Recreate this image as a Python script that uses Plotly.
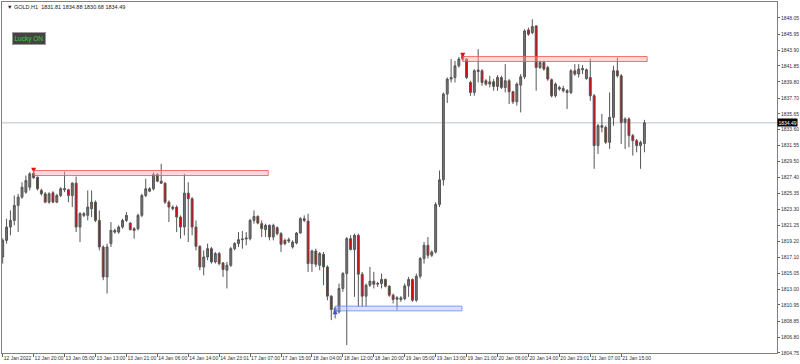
import plotly.graph_objects as go

# ---------------- data (GOLD, H1) ----------------
tick_labels = ["12 Jan 2022", "12 Jan 20:00", "13 Jan 05:00", "13 Jan 13:00", "13 Jan 21:00",
               "14 Jan 06:00", "14 Jan 14:00", "14 Jan 23:01", "17 Jan 07:00", "17 Jan 15:00",
               "18 Jan 04:00", "18 Jan 12:00", "18 Jan 20:00", "19 Jan 05:00", "19 Jan 13:00",
               "19 Jan 21:00", "20 Jan 06:00", "20 Jan 14:00", "20 Jan 23:01", "21 Jan 07:00",
               "21 Jan 15:00"]
tick_bars = list(range(0, 161, 8))

price_ticks = [1848.05, 1845.95, 1843.90, 1841.85, 1839.80, 1837.70, 1835.65, 1833.60,
               1831.55, 1829.50, 1827.40, 1825.35, 1823.30, 1821.25, 1819.20, 1817.10,
               1815.05, 1813.00, 1810.95, 1808.85, 1806.80, 1804.75]

opens = [
    1817.15, 1819.30, 1821.02, 1821.88, 1823.82, 1824.89, 1825.53, 1826.17, 1827.98, 1827.46,
    1825.75, 1825.32, 1824.24, 1825.45, 1824.24, 1825.10, 1825.84, 1825.84, 1825.10, 1826.69,
    1821.02, 1822.75, 1822.53, 1823.39, 1824.24, 1821.88, 1818.44, 1814.57, 1818.88, 1820.59,
    1820.37, 1821.02, 1821.88, 1821.53, 1820.81, 1820.81, 1822.53, 1825.10, 1825.66, 1825.97,
    1827.81, 1826.95, 1826.69, 1824.24, 1823.39, 1823.60, 1822.31, 1821.02, 1825.40, 1824.68,
    1821.02, 1818.53, 1815.86, 1817.15, 1818.23, 1816.51, 1817.59, 1816.38, 1815.44, 1816.08,
    1818.23, 1818.88, 1819.39, 1819.47, 1819.52, 1821.88, 1822.40, 1821.46, 1820.68, 1821.24,
    1819.73, 1820.94, 1820.17, 1819.30, 1819.39, 1818.44, 1818.96, 1820.25, 1822.10, 1821.79,
    1816.30, 1817.92, 1816.08, 1817.50, 1815.86, 1812.09, 1810.50, 1810.06, 1813.08, 1815.01,
    1819.52, 1818.11, 1819.95, 1814.92, 1812.09, 1813.50, 1814.02, 1813.63, 1813.72, 1814.24,
    1813.37, 1812.21, 1811.70, 1811.66, 1811.79, 1813.41, 1814.24, 1811.57, 1814.66, 1816.95,
    1818.66, 1817.37, 1817.80, 1823.94, 1827.13, 1838.21, 1840.15, 1840.35, 1841.86, 1843.15,
    1842.73, 1839.71, 1838.42, 1841.13, 1841.22, 1839.93, 1839.50, 1839.80, 1839.19, 1840.35,
    1839.06, 1839.93, 1838.51, 1837.22, 1839.37, 1840.44, 1846.50, 1846.15, 1847.02, 1841.64,
    1842.29, 1841.64, 1840.06, 1837.99, 1839.06, 1838.94, 1838.64, 1838.42, 1841.22, 1840.79,
    1841.35, 1840.22, 1840.35, 1837.99, 1831.55, 1833.91, 1833.91, 1831.97, 1835.20, 1841.22,
    1840.57, 1834.55, 1834.99, 1832.84, 1832.19, 1831.55, 1831.81]

highs = [
    1819.56, 1822.10, 1823.17, 1825.10, 1825.32, 1826.82, 1827.68, 1828.11, 1828.30, 1827.55,
    1825.97, 1825.53, 1825.53, 1825.66, 1825.32, 1826.17, 1828.20, 1825.97, 1826.82, 1827.55,
    1822.95, 1822.95, 1825.75, 1825.75, 1824.46, 1823.17, 1818.66, 1818.88, 1821.66, 1820.81,
    1821.24, 1822.10, 1822.95, 1821.66, 1821.02, 1822.75, 1825.32, 1827.26, 1826.17, 1828.11,
    1827.98, 1829.19, 1826.82, 1824.46, 1823.82, 1823.82, 1822.53, 1827.90, 1826.82, 1824.89,
    1821.88, 1818.66, 1818.01, 1818.88, 1818.44, 1817.80, 1817.80, 1816.51, 1816.51, 1818.44,
    1819.08, 1820.37, 1820.50, 1820.37, 1822.10, 1823.17, 1822.53, 1821.88, 1821.46, 1821.37,
    1821.46, 1821.11, 1820.37, 1819.52, 1819.65, 1819.30, 1820.37, 1822.31, 1822.53, 1822.75,
    1818.11, 1818.23, 1817.80, 1817.80, 1816.08, 1812.21, 1810.71, 1813.72, 1815.22, 1819.73,
    1819.95, 1820.17, 1820.17, 1815.22, 1813.72, 1815.86, 1815.22, 1813.93, 1815.01, 1814.37,
    1813.50, 1812.43, 1812.09, 1812.09, 1813.72, 1814.57, 1814.37, 1815.01, 1817.15, 1819.08,
    1819.73, 1818.01, 1824.24, 1828.33, 1838.42, 1840.35, 1842.73, 1842.51, 1843.00, 1843.30,
    1842.80, 1839.93, 1841.44, 1844.01, 1841.44, 1840.15, 1840.57, 1840.15, 1840.66, 1840.57,
    1842.08, 1840.15, 1838.64, 1839.71, 1840.79, 1846.59, 1846.80, 1847.88, 1847.11, 1842.51,
    1842.51, 1841.86, 1840.22, 1839.71, 1839.28, 1839.28, 1838.86, 1841.44, 1842.08, 1842.08,
    1841.95, 1841.51, 1842.80, 1838.21, 1834.35, 1835.64, 1834.13, 1838.42, 1841.86, 1842.93,
    1840.79, 1835.20, 1835.20, 1833.06, 1832.41, 1832.19, 1834.88]

lows = [
    1816.30, 1818.88, 1819.95, 1821.24, 1820.37, 1824.68, 1825.32, 1825.75, 1827.26, 1825.75,
    1825.10, 1824.11, 1824.03, 1824.11, 1824.11, 1824.89, 1825.53, 1824.24, 1823.60, 1820.37,
    1819.08, 1822.31, 1821.88, 1822.31, 1821.66, 1818.01, 1814.15, 1812.43, 1818.44, 1820.17,
    1820.17, 1820.81, 1821.66, 1820.59, 1819.52, 1820.59, 1822.31, 1824.89, 1825.53, 1825.75,
    1826.82, 1826.61, 1824.03, 1821.66, 1823.17, 1820.37, 1819.52, 1819.95, 1819.08, 1819.95,
    1818.01, 1815.44, 1814.79, 1816.73, 1816.30, 1816.30, 1816.08, 1814.57, 1813.08, 1815.86,
    1818.01, 1818.44, 1818.23, 1818.66, 1819.30, 1821.46, 1821.37, 1819.73, 1819.73, 1819.30,
    1819.30, 1819.95, 1817.80, 1818.66, 1818.96, 1818.23, 1818.79, 1820.17, 1821.66, 1815.22,
    1815.22, 1815.86, 1815.44, 1813.50, 1811.57, 1808.99, 1809.21, 1809.85, 1812.64, 1805.77,
    1818.01, 1812.00, 1810.71, 1810.71, 1810.71, 1813.28, 1813.08, 1813.28, 1813.08, 1813.21,
    1812.00, 1811.14, 1810.28, 1811.35, 1811.57, 1812.00, 1811.35, 1811.35, 1814.37, 1816.30,
    1816.95, 1817.15, 1817.59, 1823.60, 1826.39, 1837.05, 1839.71, 1839.71, 1841.64, 1842.51,
    1840.15, 1837.99, 1837.99, 1839.71, 1839.28, 1839.28, 1839.06, 1838.64, 1838.64, 1838.86,
    1838.42, 1836.92, 1836.92, 1836.71, 1835.84, 1840.15, 1845.73, 1845.95, 1838.64, 1841.44,
    1841.22, 1839.93, 1837.78, 1837.78, 1838.64, 1838.42, 1836.28, 1838.21, 1840.57, 1840.35,
    1840.79, 1840.06, 1837.35, 1828.55, 1830.48, 1833.26, 1831.77, 1831.12, 1834.13, 1840.35,
    1831.77, 1831.12, 1831.33, 1830.26, 1830.69, 1828.55, 1830.68]

closes = [
    1819.30, 1821.02, 1821.88, 1823.82, 1824.89, 1826.17, 1827.04, 1827.90, 1827.39, 1825.97,
    1825.32, 1824.24, 1825.32, 1824.24, 1825.10, 1825.97, 1825.97, 1825.10, 1826.69, 1821.02,
    1822.75, 1822.53, 1823.60, 1824.24, 1821.88, 1818.44, 1814.57, 1818.44, 1820.59, 1820.37,
    1821.02, 1821.88, 1822.53, 1820.68, 1820.59, 1822.53, 1825.10, 1825.97, 1825.97, 1827.81,
    1826.95, 1826.69, 1824.24, 1823.60, 1823.60, 1822.31, 1821.02, 1825.40, 1824.68, 1821.02,
    1818.53, 1815.86, 1817.15, 1818.23, 1816.51, 1817.59, 1816.30, 1815.53, 1816.08, 1818.23,
    1818.88, 1819.39, 1819.47, 1819.60, 1821.88, 1822.40, 1821.53, 1820.81, 1821.24, 1819.73,
    1821.24, 1820.17, 1818.79, 1818.88, 1819.21, 1819.08, 1820.25, 1822.10, 1821.88, 1816.30,
    1817.92, 1816.21, 1817.59, 1815.86, 1812.09, 1810.37, 1810.06, 1813.08, 1815.01, 1819.52,
    1818.11, 1819.95, 1814.92, 1812.09, 1813.50, 1814.02, 1813.63, 1813.72, 1814.24, 1813.37,
    1812.21, 1811.66, 1811.87, 1811.87, 1813.41, 1814.24, 1811.57, 1814.66, 1816.95, 1818.66,
    1817.37, 1817.80, 1823.94, 1827.13, 1838.21, 1840.15, 1840.35, 1841.86, 1842.73, 1842.73,
    1840.35, 1838.42, 1841.22, 1841.31, 1839.71, 1839.50, 1839.80, 1839.19, 1840.35, 1839.06,
    1839.93, 1838.51, 1837.22, 1839.50, 1840.44, 1846.37, 1845.95, 1846.93, 1841.64, 1842.29,
    1841.44, 1840.15, 1837.99, 1839.50, 1838.86, 1838.64, 1838.42, 1841.22, 1840.79, 1841.44,
    1841.51, 1841.35, 1837.99, 1831.55, 1834.13, 1834.13, 1831.97, 1835.20, 1841.22, 1840.57,
    1834.55, 1834.99, 1832.84, 1832.19, 1831.55, 1831.97, 1834.49]

bar_index = list(range(len(opens)))

# supply / demand zones (bar start, bar end, price top, price bottom)
zone_start = [8, 119, 86]
zone_end = [68.7, 166.7, 118.8]
zone_top = [1828.33, 1843.06, 1810.80]
zone_bottom = [1827.68, 1842.42, 1810.19]
zone_kind = ["sell", "sell", "buy"]

# signal arrows
arrow_bar = [8, 119, 86]
arrow_price = [1828.05, 1842.90, 1810.40]
arrow_kind = ["sell", "sell", "buy"]

last_price = 1834.49
header = "GOLD,H1  1831.81 1834.88 1830.68 1834.49"

# ---------------- figure ----------------
FONT = "Liberation Sans"
fig = go.Figure()

fig.add_trace(go.Candlestick(
    x=bar_index, open=opens, high=highs, low=lows, close=closes,
    increasing=dict(line=dict(color="#555555", width=1), fillcolor="#747474"),
    decreasing=dict(line=dict(color="#555555", width=1), fillcolor="#e00000"),
    whiskerwidth=0, showlegend=False, hoverinfo="skip"))

shapes = []
for x0, x1, yt, yb, k in zip(zone_start, zone_end, zone_top, zone_bottom, zone_kind):
    if k == "sell":
        lc, fc = "#f05050", "rgba(255,170,170,0.45)"
    else:
        lc, fc = "#6688ee", "rgba(170,190,255,0.45)"
    shapes.append(dict(type="rect", xref="x", yref="y", x0=x0, x1=x1, y0=yb, y1=yt,
                       line=dict(color=lc, width=0.8), fillcolor=fc, layer="above"))

shapes.append(dict(type="line", xref="paper", yref="y", x0=0, x1=1, y0=last_price, y1=last_price,
                   line=dict(color="#bcc2cc", width=1), layer="below"))

for k in ["sell", "buy"]:
    xs = [b for b, kk in zip(arrow_bar, arrow_kind) if kk == k]
    ys = [p for p, kk in zip(arrow_price, arrow_kind) if kk == k]
    fig.add_trace(go.Scatter(
        x=xs, y=ys, mode="markers", showlegend=False, hoverinfo="skip",
        marker=dict(symbol="arrow-down" if k == "sell" else "arrow-up", size=5,
                    color="#e01010" if k == "sell" else "#3050e0",
                    line=dict(width=0))))

annotations = [
    dict(xref="paper", yref="paper", x=0.004, y=1.0, xanchor="left", yanchor="top",
         text="\u25BC " + header, showarrow=False,
         font=dict(family=FONT, size=5.5, color="#202020")),
    dict(xref="paper", yref="paper", x=0.0129, y=0.915, xanchor="left", yanchor="top",
         text="Lucky ON", showarrow=False, bgcolor="#444444", bordercolor="#9a9a9a",
         borderwidth=1, borderpad=1.5, font=dict(family=FONT, size=6.5, color="#3ccf3c")),
    dict(xref="paper", yref="y", x=1.0, y=last_price, xanchor="left", yanchor="middle",
         text="%.2f" % last_price, showarrow=False, bgcolor="#000000", borderpad=0.5,
         font=dict(family=FONT, size=5, color="#ffffff")),
]

fig.update_layout(
    width=800, height=364,
    margin=dict(l=1, r=22, t=1, b=11),
    paper_bgcolor="#ffffff", plot_bgcolor="#ffffff",
    shapes=shapes, annotations=annotations,
    showlegend=False,
    xaxis=dict(range=[-0.18, 200.3], rangeslider=dict(visible=False),
               tickmode="array", tickvals=tick_bars, ticktext=tick_labels,
               tickangle=0, ticklabelposition="outside right", ticks="outside", ticklen=3,
               tickcolor="#606060", tickfont=dict(family=FONT, size=5, color="#303030"),
               showgrid=False, zeroline=False, showline=True, linecolor="#808080",
               linewidth=1, mirror=True, fixedrange=True),
    yaxis=dict(range=[1804.74, 1850.11], side="right", tickmode="array",
               tickvals=price_ticks, ticktext=["%.2f" % v for v in price_ticks],
               ticks="outside", ticklen=2, tickcolor="#606060",
               tickfont=dict(family=FONT, size=5, color="#303030"),
               showgrid=False, zeroline=False, showline=True, linecolor="#808080",
               linewidth=1, mirror=True, fixedrange=True),
)

fig.write_html("out.html")
